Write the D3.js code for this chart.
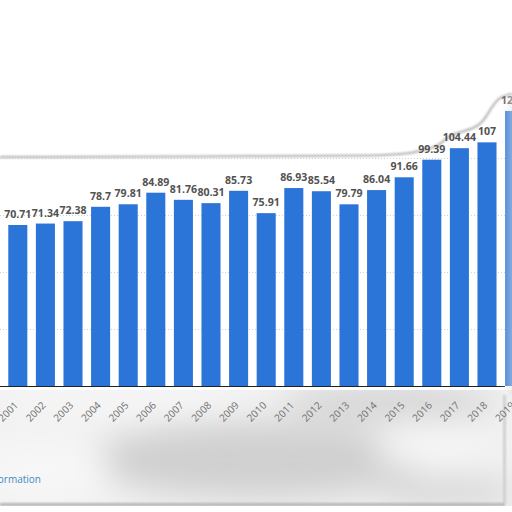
<!DOCTYPE html>
<html><head><meta charset="utf-8">
<script src="https://cdn.jsdelivr.net/npm/d3@7"></script>
<style>html,body{margin:0;padding:0;background:#fff;overflow:hidden}svg{display:block}</style>
</head><body>
<svg id="c" width="512" height="512"></svg>
<script>
const years = ["2001","2002","2003","2004","2005","2006","2007","2008","2009","2010","2011","2012","2013","2014","2015","2016","2017","2018","2019"];
const values = [70.71,71.34,72.38,78.7,79.81,84.89,81.76,80.31,85.73,75.91,86.93,85.54,79.79,86.04,91.66,99.39,104.44,107,120.8];
const labels = ["70.71","71.34","72.38","78.7","79.81","84.89","81.76","80.31","85.73","75.91","86.93","85.54","79.79","86.04","91.66","99.39","104.44","107","120.8"];
const yTicks = [0,25,50,75,100];

const svg = d3.select("#c");
const defs = svg.append("defs");
const blur = defs.append("filter").attr("id","bl").attr("x","-50%").attr("y","-150%").attr("width","200%").attr("height","400%");
blur.append("feGaussianBlur").attr("stdDeviation",16);
const blur2 = defs.append("filter").attr("id","bl2").attr("x","-5%").attr("y","-50%").attr("width","110%").attr("height","200%");
blur2.append("feGaussianBlur").attr("stdDeviation",1.2);

const x = d3.scaleBand().domain(years).range([4, 4 + 27.6*19]).paddingInner(0.31).paddingOuter(0.155);
const y = d3.scaleLinear().domain([0,100]).range([386,158.3]);

// blurred grey footer area
const foot = svg.append("g");
const clip = defs.append("clipPath").attr("id","fc");
clip.append("rect").attr("x",0).attr("y",390).attr("width",512).attr("height",116);
foot.append("rect").attr("x",0).attr("y",390).attr("width",512).attr("height",116).attr("fill","#f1f1f1");
const fb = foot.append("g").attr("clip-path","url(#fc)").append("g").attr("filter","url(#bl)");
fb.append("ellipse").attr("cx",260).attr("cy",460).attr("rx",170).attr("ry",38).attr("fill","#d0d0d0");
fb.append("ellipse").attr("cx",390).attr("cy",402).attr("rx",110).attr("ry",16).attr("fill","#d2d2d2");
fb.append("ellipse").attr("cx",430).attr("cy",450).attr("rx",55).attr("ry",18).attr("fill","#f6f6f6");
fb.append("ellipse").attr("cx",450).attr("cy",492).attr("rx",70).attr("ry",16).attr("fill","#d8d8d8");
fb.append("ellipse").attr("cx",40).attr("cy",470).attr("rx",70).attr("ry",30).attr("fill","#f7f7f7");
fb.append("ellipse").attr("cx",120).attr("cy",398).attr("rx",130).attr("ry",8).attr("fill","#fbfbfb");
foot.append("rect").attr("x",503).attr("y",395).attr("width",3).attr("height",108).attr("fill","#d0d0d0").attr("filter","url(#bl2)");
foot.append("rect").attr("x",0).attr("y",503).attr("width",505).attr("height",3).attr("fill","#b5b5b5").attr("filter","url(#bl2)");
foot.append("rect").attr("x",0).attr("y",506).attr("width",512).attr("height",6).attr("fill","#ffffff");

foot.append("text").attr("x",41).attr("y",483).attr("text-anchor","end")
  .attr("font-family","Open Sans").attr("font-size",10).attr("fill","#3d8ac9")
  .text("Additional Information");

// top border line of panel
const border = [[0,157],[200,156.5],[400,156],[414,152],[440,147],[448,134],[476,129],[486,118],[497,97],[512,94]];
svg.append("path").attr("d", d3.line().curve(d3.curveBasis)(border))
  .attr("fill","none").attr("stroke","#b0b0b0").attr("stroke-width",2).attr("filter","url(#bl2)");

// gridlines
svg.append("g").selectAll("line").data(yTicks.filter(d=>d>0)).join("line")
  .attr("x1",0).attr("x2",505).attr("y1",d=>Math.round(y(d))+0.5).attr("y2",d=>Math.round(y(d))+0.5)
  .attr("stroke","#cfcfcf").attr("stroke-width",1).attr("stroke-dasharray","1,2");

// bars
svg.append("g").selectAll("rect").data(values).join("rect")
  .attr("x",(d,i)=>x(years[i])).attr("width",x.bandwidth())
  .attr("y",d=>y(d)).attr("height",d=>y(0)-y(d)).attr("fill","#2b74d8");

// value labels
svg.append("g").selectAll("text").data(values).join("text")
  .attr("x",(d,i)=>x(years[i])+x.bandwidth()/2).attr("y",d=>y(d)-7)
  .attr("text-anchor","middle").attr("font-family","Open Sans").attr("font-weight","bold")
  .attr("font-size",10.6).attr("fill","#525252")
  .text((d,i)=>labels[i]);

// x axis
const xa = svg.append("g").attr("transform","translate(0,386)").call(d3.axisBottom(x).tickSize(0).tickPadding(0));
xa.select(".domain").remove();
svg.append("line").attr("x1",0).attr("x2",505).attr("y1",386.5).attr("y2",386.5).attr("stroke","#222").attr("stroke-width",1.2);
xa.selectAll("text").attr("font-family","Open Sans").attr("font-size",10).attr("fill","#707070")
  .attr("text-anchor","end").attr("dy",0)
  .attr("transform","translate(1,20) rotate(-45)");

// right edge haze
const rg = defs.append("linearGradient").attr("id","rg").attr("x1",0).attr("x2",1);
rg.append("stop").attr("offset",0).attr("stop-color","#ffffff").attr("stop-opacity",0);
rg.append("stop").attr("offset",1).attr("stop-color","#e0e0e0").attr("stop-opacity",0.5);
svg.append("rect").attr("x",500).attr("y",95).attr("width",12).attr("height",300).attr("fill","url(#rg)");
</script>
</body></html>
